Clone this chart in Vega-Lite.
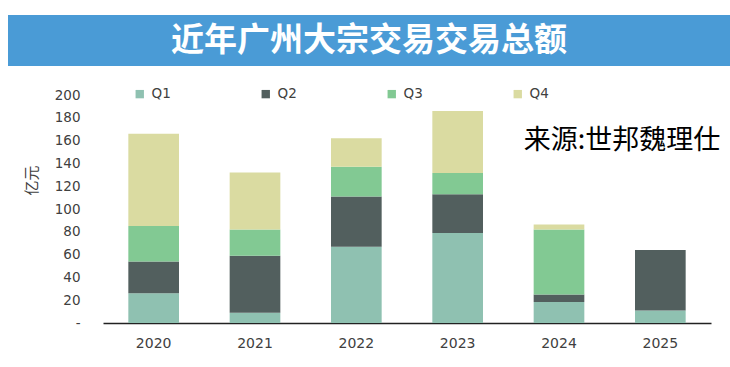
{
  "$schema": "https://vega.github.io/schema/vega-lite/v6.json",
  "autosize": "none",
  "padding": {"left": 8, "top": 15, "right": 0, "bottom": 44},
  "width": 722,
  "height": 308,
  "background": "white",
  "resolve": {"axis": {"x": "independent", "y": "independent"}},
  "config": {
    "view": {"stroke": null},
    "axis": {"labelFont": "DejaVu Sans", "labelFontSize": 13.5, "labelColor": "#404040", "titleFont": "Noto Sans CJK SC", "titleColor": "#404040"},
    "axisY": {"labelOverlap": false}
  },
  "layer": [
    {
      "data": {"values": [{"t": "近年广州大宗交易交易总额"}]},
      "mark": {"type": "rect", "color": "#4A9BD6"},
      "encoding": {
        "y": {"datum": 225.4, "type": "quantitative", "axis": null},
        "y2": {"datum": 270.2}
      }
    },
    {
      "data": {"values": [{"t": "近年广州大宗交易交易总额"}]},
      "mark": {"type": "text", "font": "Noto Sans CJK SC", "fontSize": 33, "fontWeight": "bold", "color": "white", "baseline": "middle", "align": "center"},
      "encoding": {
        "y": {"datum": 247.8, "type": "quantitative", "axis": null},
        "text": {"field": "t", "type": "nominal"}
      }
    },
    {
      "data": {"values": [
        {"year": "2020", "q": "Q1", "value": 26},
        {"year": "2020", "q": "Q2", "value": 28},
        {"year": "2020", "q": "Q3", "value": 31},
        {"year": "2020", "q": "Q4", "value": 81},
        {"year": "2021", "q": "Q1", "value": 9},
        {"year": "2021", "q": "Q2", "value": 50},
        {"year": "2021", "q": "Q3", "value": 23},
        {"year": "2021", "q": "Q4", "value": 50},
        {"year": "2022", "q": "Q1", "value": 67},
        {"year": "2022", "q": "Q2", "value": 44},
        {"year": "2022", "q": "Q3", "value": 26},
        {"year": "2022", "q": "Q4", "value": 25},
        {"year": "2023", "q": "Q1", "value": 79},
        {"year": "2023", "q": "Q2", "value": 34},
        {"year": "2023", "q": "Q3", "value": 18.5},
        {"year": "2023", "q": "Q4", "value": 54.5},
        {"year": "2024", "q": "Q1", "value": 18.5},
        {"year": "2024", "q": "Q2", "value": 6.5},
        {"year": "2024", "q": "Q3", "value": 57},
        {"year": "2024", "q": "Q4", "value": 4.5},
        {"year": "2025", "q": "Q1", "value": 11},
        {"year": "2025", "q": "Q2", "value": 53}
      ]},
      "mark": {"type": "bar"},
      "encoding": {
        "x": {
          "field": "year", "type": "nominal", "sort": null,
          "scale": {"range": [95, 703], "paddingInner": 0.5, "paddingOuter": 0.25},
          "axis": {
            "labelAngle": 0, "ticks": false, "labelPadding": 13, "title": null, "labelFontSize": 14,
            "domainColor": "#222222", "domainWidth": 1.5
          }
        },
        "y": {
          "field": "value", "type": "quantitative", "aggregate": "sum", "stack": "zero",
          "scale": {"domain": [0, 270.2], "nice": false, "zero": true},
          "axis": {
            "values": [0, 20, 40, 60, 80, 100, 120, 140, 160, 180, 200],
            "labelExpr": "datum.value === 0 ? '-' : datum.label",
            "labelOverlap": false,
            "offset": -95,
            "grid": false, "domain": false, "ticks": false, "labelPadding": 23,
            "title": "亿元", "titleFontSize": 15, "titleFontWeight": "normal",
            "titleX": -64, "titleY": 165, "titleAngle": -90, "titleAlign": "center", "titleBaseline": "bottom"
          }
        },
        "color": {
          "field": "q", "type": "nominal",
          "scale": {"domain": ["Q1", "Q2", "Q3", "Q4"], "range": ["#8FC1B1", "#525F5E", "#82C993", "#DADBA1"]},
          "legend": {
            "title": null, "orient": "none", "legendX": 125, "legendY": 72, "direction": "horizontal",
            "columnPadding": 88, "symbolType": "square", "symbolSize": 70, "symbolStrokeWidth": 0,
            "labelFont": "DejaVu Sans", "labelFontSize": 13.5, "labelColor": "#404040", "labelOffset": 5, "padding": 0
          }
        },
        "order": {"field": "q", "sort": "ascending"}
      }
    },
    {
      "data": {"values": [{"year": "2025", "v": 159.5, "label": "来源:世邦魏理仕"}]},
      "mark": {"type": "text", "font": "Noto Sans CJK SC", "fontSize": 27, "color": "#000000", "align": "right", "baseline": "middle", "dx": 60},
      "encoding": {
        "x": {"field": "year", "type": "nominal", "axis": null},
        "y": {"field": "v", "type": "quantitative", "axis": null},
        "text": {"field": "label", "type": "nominal"}
      }
    }
  ]
}
